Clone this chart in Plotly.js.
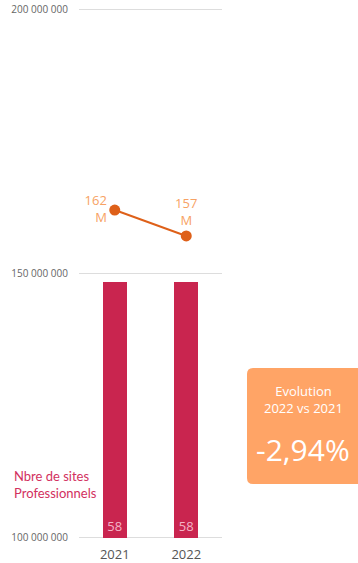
<!DOCTYPE html>
<html><head><meta charset="utf-8">
<script src="https://cdn.plot.ly/plotly-3.0.1.min.js"></script>
<style>html,body{margin:0;padding:0;background:#fff;}#chart{width:358px;height:563px;}</style>
</head><body><div id="chart"></div>
<script>
const years = ['2021', '2022'];
const sites = [58, 58];
const volumes = [162000000, 157100000];
const volumeLabels = ['162<br>M', '157<br>M'];
const yTicks = [100000000, 150000000, 200000000];
const evolutionTitle = 'Evolution<br>2022 vs 2021';
const evolutionValue = '-2,94%';
const seriesLabel = 'Nbre de sites<br>Professionnels';

const FONT = '"Open Sans", "Noto Sans", sans-serif';

// plot area pixel geometry helpers (paper coords)
const L = 79, R = 136, T = 8, B = 24, W = 358, H = 563;
const pw = W - L - R, ph = H - T - B;
const px = x => (x - L) / pw;
const py = y => (H - B - y) / ph;

function roundRect(x0, y0, x1, y1, r) {
  const rx = r / pw, ry = r / ph;
  const a = px(x0), b = px(x1), top = py(y0), bot = py(y1);
  return `M ${a + rx},${top} L ${b - rx},${top} Q ${b},${top} ${b},${top - ry} L ${b},${bot + ry} Q ${b},${bot} ${b - rx},${bot} L ${a + rx},${bot} Q ${a},${bot} ${a},${bot + ry} L ${a},${top - ry} Q ${a},${top} ${a + rx},${top} Z`;
}

const data = [
  {
    type: 'bar', x: years, y: sites, yaxis: 'y2',
    marker: {color: '#C9254F'}, width: 0.335,
    text: sites.map(String), textposition: 'inside', insidetextanchor: 'start',
    textfont: {color: '#F4B3C6', size: 13, family: FONT},
    hoverinfo: 'skip', cliponaxis: false
  },
  {
    type: 'scatter', mode: 'lines+markers+text', x: years, y: volumes,
    line: {color: '#DE6019', width: 2},
    marker: {color: '#DE6019', size: 11},
    text: volumeLabels, textposition: ['middle left', 'top center'],
    textfont: {color: '#F7A264', size: 13, family: FONT},
    cliponaxis: false, hoverinfo: 'skip'
  }
];

const layout = {
  width: W, height: H,
  margin: {l: L, r: R, t: T, b: B, pad: 0},
  paper_bgcolor: '#fff', plot_bgcolor: '#fff',
  showlegend: false,
  separators: ', ',
  font: {family: FONT, color: '#555'},
  bargap: 0,
  xaxis: {
    type: 'category', range: [-0.5, 1.5], showgrid: false, zeroline: false,
    showline: false, ticks: '', ticklabelstandoff: 6,
    tickfont: {size: 13, color: '#555'}, fixedrange: true
  },
  yaxis: {
    range: [99800000, 200200000], tickvals: yTicks, tickformat: ',d',
    showgrid: true, gridcolor: '#DDDDDD', gridwidth: 1, zeroline: false,
    ticks: '', ticklabelstandoff: 10, tickfont: {size: 10, color: '#666'}, fixedrange: true
  },
  yaxis2: {overlaying: 'y', range: [-0.24, 120], visible: false, fixedrange: true},
  shapes: [
    {type: 'path', xref: 'paper', yref: 'paper', path: roundRect(247, 368, 370, 484, 6),
     fillcolor: '#FFA466', line: {width: 0}, layer: 'below'}
  ],
  annotations: [
    {xref: 'paper', yref: 'paper', x: px(12), y: py(484), xanchor: 'left', yanchor: 'middle',
     text: seriesLabel, showarrow: false, align: 'left',
     font: {size: 13, color: '#D2305E', family: 'Lato, "Open Sans", sans-serif'}},
    {xref: 'paper', yref: 'paper', x: px(303), y: py(400), xanchor: 'center', yanchor: 'middle',
     text: evolutionTitle, showarrow: false, align: 'center',
     font: {size: 13, color: '#FFFFFF', family: FONT}},
    {xref: 'paper', yref: 'paper', x: px(303), y: py(449), xanchor: 'center', yanchor: 'middle',
     text: evolutionValue, showarrow: false,
     font: {size: 30, color: '#FFFFFF', family: FONT}}
  ]
};

Plotly.newPlot('chart', data, layout, {displayModeBar: false, staticPlot: true});
</script></body></html>
